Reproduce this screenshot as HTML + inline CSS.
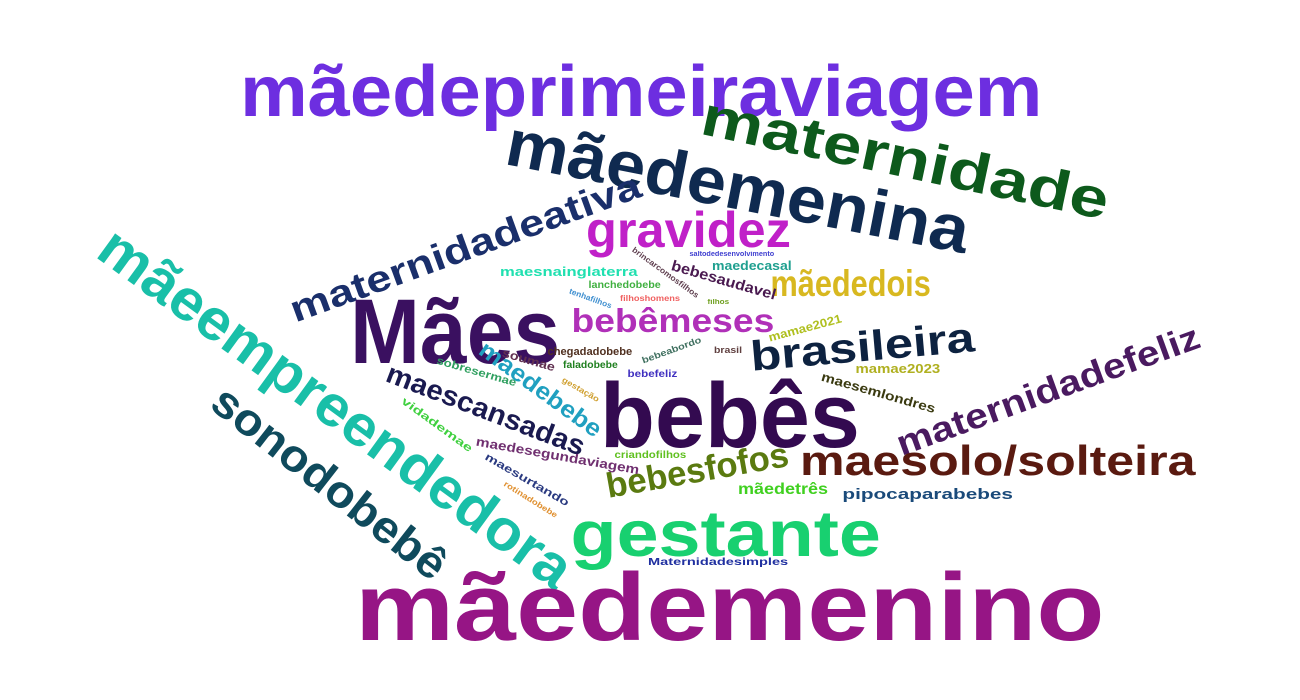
<!DOCTYPE html>
<html><head><meta charset="utf-8"><style>
html,body{margin:0;padding:0;background:#fff;}
#cloud{position:relative;width:1300px;height:700px;overflow:hidden;background:#fff;}
.w{position:absolute;white-space:nowrap;font-family:"Liberation Sans","DejaVu Sans",sans-serif;font-weight:bold;line-height:1;transform-origin:50% 50%;}
</style></head><body>
<div id="cloud"></div>
<script>
const words=["mãedeprimeiraviagem","mãedemenina","maternidade","gravidez","maternidadeativa","mãeempreendedora","sonodobebê","Mães","bebês","bebêmeses","mãededois","brasileira","maternidadefeliz","maesolo/solteira","gestante","mãedemenino","bebesfofos","maescansadas","maedebebe","pipocaparabebes","mãedetrês","maesemlondres","mamae2023","mamae2021","bebesaudavel","maedecasal","maesnainglaterra","lanchedobebe","brincarcomosfilhos","saltodedesenvolvimento","tenhafilhos","filhoshomens","filhos","chegadadobebe","bebeabordo","brasil","soumae","faladobebe","bebefeliz","sobresermae","vidademae","gestação","maedesegundaviagem","maesurtando","criandofilhos","rotinadobebe","Maternidadesimples"];
const cx=[641,738,905,688,465,335,330,455,730,673,850,862,1048,997,725,730,697,485,540,927,783,878,898,805,723,752,569,624,665,732,590,650,718,590,672,728,528,590,652,476,436,580,557,526,650,530,718];
const cy=[92,186,158,230,247,408,482,332,416,320,283,347,390,461,533,608,470,410,390,494,490,392,368,328,280,265,271,286,273,254,299,299,302,352,350,350,360,366,375,372,425,390,455,480,456,500,563];
const tw=[802,470,415,205,370,570,285,210,260,203,160,225,320,395,310,750,185,210,145,170,90,118,85,75,108,80,138,72,80,85,45,60,22,85,63,28,54,55,50,83,85,42,165,95,72,62,140];
const fs=[72,66,56,50,37,58,45,92,92,33,37,42,35,42,65,96,35,28,24,15,16,13,13,12,15,13,13,10,8,7,8,8,7,11,9,9,12,10,10,11,11,8,13,11,10,8,10];
const ang=[0,11,12,0,-20,36,38,0,0,0,0,-5,-20,0,0,0,-10,21,36,0,0,16,0,-15,16,0,0,0,36,0,20,0,0,0,-20,0,16,0,0,16,36,30,10,30,0,32,0];
const col=["#6d2ee0","#0f2a50","#0d5a1c","#c020c8","#1a2f6b","#19bfa8","#0f4a5c","#3a1060","#330a50","#b030b8","#d8b820","#0d2240","#4a1a60","#5a1a10","#18d070","#961585","#5a7a10","#1a1a50","#20a0c0","#1a4a7a","#40d020","#3a3a10","#b0b020","#b0c020","#4a1a50","#20a090","#20e0b0","#40b040","#604050","#4040d0","#4090d0","#f06060","#70a020","#503020","#407060","#604040","#603050","#208020","#4030c0","#30a060","#40d040","#d0a030","#703070","#2a3a80","#60c020","#e09030","#2030a0"];
const cloud=document.getElementById('cloud');
for(let i=0;i<words.length;i++){
  const el=document.createElement('span');
  el.className='w';
  
  
  el.textContent=words[i];
  el.style.fontSize=fs[i]+'px';
  el.style.color=col[i];
  cloud.appendChild(el);
  const w=el.offsetWidth,h=el.offsetHeight;
  const s=tw[i]/w;
  el.style.left=(cx[i]-w/2)+'px';
  el.style.top=(cy[i]-h/2)+'px';
  el.style.transform='rotate('+ang[i]+'deg) scaleX('+s.toFixed(3)+')';
}
</script>
</body></html>
